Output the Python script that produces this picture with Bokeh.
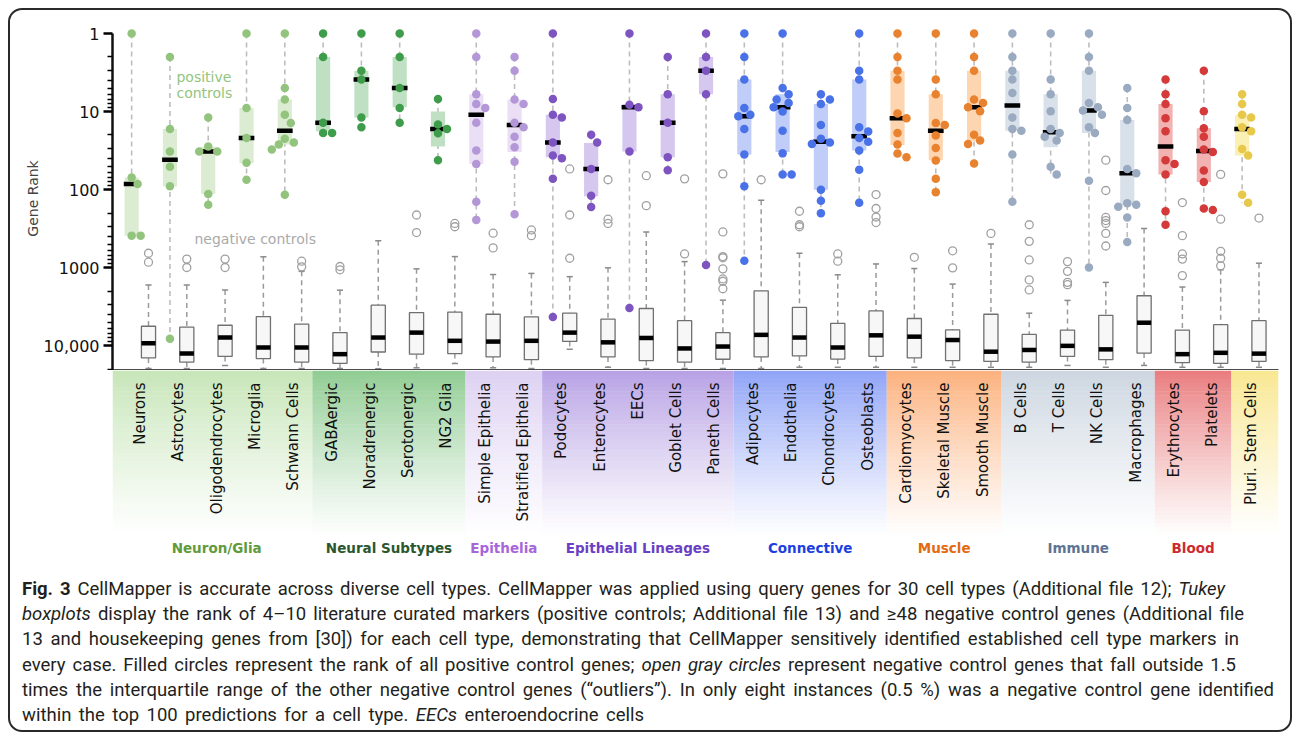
import math
from bokeh.plotting import figure
from bokeh.models import Range1d, FixedTicker, Label, ColumnDataSource, Div, CustomJSTickFormatter
from bokeh.layouts import column
from bokeh.embed import file_html
from bokeh.resources import INLINE
from bokeh.core.properties import value

# ---------------- data ----------------
categories = ["Neurons", "Astrocytes", "Oligodendrocytes", "Microglia", "Schwann Cells",
              "GABAergic", "Noradrenergic", "Serotonergic", "NG2 Glia",
              "Simple Epithelia", "Stratified Epithelia",
              "Podocytes", "Enterocytes", "EECs", "Goblet Cells", "Paneth Cells",
              "Adipocytes", "Endothelia", "Chondrocytes", "Osteoblasts",
              "Cardiomyocytes", "Skeletal Muscle", "Smooth Muscle",
              "B Cells", "T Cells", "NK Cells", "Macrophages",
              "Erythrocytes", "Platelets", "Pluri. Stem Cells"]
group_names = ["Neuron/Glia", "Neural Subtypes", "Epithelia", "Epithelial Lineages",
               "Connective", "Muscle", "Immune", "Blood", ""]
group_sizes = [5, 4, 2, 5, 4, 3, 4, 2, 1]

pos_points = [
    [1, 70, 85, 390, 390],
    [2, 16.7, 32.6, 51, 91, 8200],
    [11.9, 28, 32.6, 32.6, 114, 157],
    [1, 9, 21.8, 45.5, 75],
    [1, 5, 7, 11, 14, 22.4, 25, 26.5, 30.7, 117],
    [1, 2, 13.9, 18.8, 18.8],
    [1, 3, 3.9, 11.9, 15.9],
    [1, 2, 5, 9, 13.9],
    [6.9, 14.7, 16.7, 19, 42],
    [1, 2, 6, 8, 9, 13.9, 31.6, 47, 143, 245],
    [2, 3, 7, 8, 13.9, 15.9, 21, 28.8, 44, 207],
    [1, 6.9, 11, 11.9, 25, 36.7, 39.6, 73, 4300],
    [19.8, 25, 54.5, 120, 167],
    [1, 8.2, 8.8, 32.6, 3300],
    [2, 6, 13.9, 38.6, 56.7],
    [1, 2, 3, 6, 930],
    [1, 2, 3.9, 9, 11, 11.5, 16.7, 35.6, 91, 820],
    [1, 5, 6, 7, 7.8, 8.8, 10, 17.6, 34.4, 64, 64],
    [6, 7, 8, 14.9, 22.4, 25, 26, 101, 139, 202],
    [1, 3, 3.9, 15.9, 18.1, 21.8, 24.4, 31.6, 55.6, 148],
    [1, 2, 3, 3.9, 10.6, 12.2, 18.8, 26.5, 34.6, 38.6],
    [1, 3.9, 6, 14, 14.9, 20.3, 29.3, 42.6, 73, 108],
    [1, 2, 3, 7, 7.8, 8.8, 9.9, 19.8, 23.6, 26, 46.5],
    [1, 2, 3, 3.9, 5.8, 11.9, 16.7, 17.6, 35.6, 143],
    [1, 3.9, 6, 9.9, 16.7, 18.8, 21, 23.6, 51, 64],
    [1, 2, 3, 7.8, 8.8, 9.7, 11, 15.9, 18.8, 77, 1000],
    [5, 9, 12.8, 54.5, 62, 150, 157, 166, 228, 470],
    [3.9, 6, 8, 12.2, 17.9, 42, 47, 64, 190, 283],
    [3, 9.9, 16.4, 21, 30.7, 33, 57, 80, 175, 183],
    [6, 8, 11, 11.9, 15.9, 17.9, 30.2, 36.7, 117, 148],
]
pos_q_top = [70, 16.7, 28.3, 9, 7, 2, 3, 2, 10, 6, 7, 11, 25.3, 8, 6, 2, 3.9, 6, 8, 3.9,
             3, 6, 3, 3, 6, 3, 12.8, 8, 16.4, 11]
pos_median = [85, 41.5, 32.6, 21.8, 17.6, 13.9, 3.9, 5, 16.7, 11, 14.9, 25, 54.5, 8.8, 13.9, 3,
              11.5, 8.8, 24.4, 20.8, 12.2, 17.6, 8.8, 8.4, 18.5, 9.7, 62, 28, 32, 16.7]
pos_q_bot = [390, 91, 114, 46, 26.5, 17.9, 11.9, 8.8, 28, 47, 33, 38.6, 122, 32.6, 38.6, 6,
             35.6, 33, 101, 31.6, 26.8, 42, 24, 17.6, 28.8, 18.8, 160, 64, 80, 36.7]

neg_w_top = [1670, 1670, 1940, 729, 1120, 1950, 454, 1040, 724, 1230, 1190, 1310, 1010, 350, 840,
             2620, 137, 655, 1240, 900, 1030, 1630, 500, 3850, 2640, 1550, 315, 1780, 1070, 880]
neg_q_top = [5660, 5820, 5500, 4260, 5320, 6830, 3040, 3780, 3720, 3970, 4300, 3850, 4600, 3350, 4800,
             6830, 1990, 3250, 5190, 3600, 4500, 6300, 3970, 7200, 6340, 4100, 2300, 6340, 5400, 4800]
neg_median = [9350, 12700, 7900, 10600, 10600, 12900, 7900, 6830, 8700, 8900, 8700, 6830, 9100, 8000, 10900,
              10300, 7300, 7900, 10600, 7400, 7700, 8500, 12000, 11400, 10100, 11200, 5100, 12900, 12400, 12700]
neg_q_bot = [14400, 16300, 13800, 14700, 16300, 16900, 12100, 12900, 12700, 14000, 15200, 8850, 14000, 15600, 16300,
             15000, 14000, 13600, 14900, 13800, 14400, 15600, 16000, 16300, 13800, 15200, 12500, 16600, 16900, 16000]
neg_w_bot = [19700, 19700, 18000, 19700, 19700, 19700, 19800, 19300, 17000, 19300, 19700, 11170, 19000, 19700, 19700,
             19700, 19700, 19000, 19000, 19000, 19000, 19000, 19000, 19000, 18000, 19000, 18000, 19000, 19000, 19000]
neg_outliers = [
    [656, 855], [780, 1000], [780, 1000], [], [830, 980],
    [970, 1070], [], [212, 356], [272, 300],
    [363, 560], [330, 390],
    [54.5, 212, 760], [75, 240, 272], [66.5, 161], [73, 670], [63, 350, 724, 750, 1040, 1400, 1500, 1870],
    [75], [190, 283, 300], [670, 830], [116, 175, 225, 265],
    [740], [610, 1010], [365],
    [283, 462, 800, 1440, 1940], [840, 1120, 1550, 1660], [42, 103, 228, 250, 272, 365, 530], [],
    [147, 390, 670, 780, 1270], [64, 240, 620, 760, 950], [232],
]

caption_lines = [
    "<b>Fig. 3</b> CellMapper is accurate across diverse cell types. CellMapper was applied using query genes for 30 cell types (Additional file 12); <i>Tukey</i>",
    "<i>boxplots</i> display the rank of 4\u201310 literature curated markers (positive controls; Additional file 13) and \u226548 negative control genes (Additional file",
    "13 and housekeeping genes from [30]) for each cell type, demonstrating that CellMapper sensitively identified established cell type markers in",
    "every case. Filled circles represent the rank of all positive control genes; <i>open gray circles</i> represent negative control genes that fall outside 1.5",
    "times the interquartile range of the other negative control genes (\u201coutliers\u201d). In only eight instances (0.5 %) was a negative control gene identified",
    "within the top 100 predictions for a cell type. <i>EECs</i> enteroendocrine cells",
]
caption_line_widths = [1203, 1222, 1217, 1214, 1252, 622]

# ---------------- styles ----------------
dot_colors = ["#93c47d", "#3f9c4b", "#b497d6", "#7e55c0", "#4a72e8", "#e8822e", "#9aaac0", "#d43a3a", "#e8c84a"]
box_colors = ["#dbecd2", "#bfe0c3", "#eadff5", "#d5c7ee", "#bfcdf8", "#fdd5b1", "#d8e0ea", "#f2b2b2", "#fbf0b4"]
band_colors = ["#c6e5b7", "#8ecb90", "#ddd0f2", "#b6a0e4", "#8ea2f7", "#fcb07b", "#ccd5e0", "#e97a7c", "#f9e78f"]
label_colors = ["#5f9b3c", "#2b572f", "#a766d9", "#6b3fc4", "#1d3fe0", "#e36a12", "#5d7394", "#cc2a2f", "#000000"]
FONT = "DejaVu Sans"

grp_idx = []
for g, n in enumerate(group_sizes):
    grp_idx += [g] * n

FRAME_W = 1166
X0, X1 = -0.72, 29.73
PX_PER_UNIT = FRAME_W / (X1 - X0)
Y_BOT, Y_TOP = 20900, 0.813
FRAME_H = 344
PX_PER_DEC = FRAME_H / math.log10(Y_BOT / Y_TOP)
DX = 0.22
BOXW = 0.37
LEFT = 102

x_range = Range1d(X0, X1)

p = figure(frame_width=FRAME_W, frame_height=FRAME_H, x_range=x_range,
           y_range=Range1d(Y_BOT, Y_TOP), y_axis_type="log",
           output_backend="svg", toolbar_location=None,
           min_border_left=LEFT, min_border_right=2, min_border_top=16, min_border_bottom=0)
p.xgrid.visible = False
p.ygrid.visible = False
p.outline_line_color = None
p.background_fill_color = None
p.border_fill_color = None

yax = p.yaxis[0]
yax.ticker = FixedTicker(ticks=[1, 10, 100, 1000, 10000],
                         minor_ticks=[m * 10 ** e for e in range(5) for m in range(2, 10) if m * 10 ** e < Y_BOT])
yax.formatter = CustomJSTickFormatter(code="var t = Math.round(tick); return t >= 10000 ? t.toLocaleString('en-US') : String(t);")
yax.bounds = (1, Y_BOT)
yax.axis_line_width = 2.5
yax.axis_line_color = "#111111"
yax.major_tick_line_width = 2.5
yax.major_tick_out = 9
yax.major_tick_in = 0
yax.minor_tick_line_width = 1.5
yax.minor_tick_out = 5
yax.minor_tick_in = 0
yax.major_label_text_font = FONT
yax.major_label_text_font_size = "16px"
yax.major_label_text_color = "#111111"
yax.major_label_standoff = 4
yax.axis_label = "Gene Rank"
yax.axis_label_text_font = FONT
yax.axis_label_text_font_size = "14px"
yax.axis_label_text_font_style = "normal"
yax.axis_label_standoff = 0

xax = p.xaxis[0]
xax.ticker = FixedTicker(ticks=[])
xax.major_label_text_font_size = "0px"
xax.major_tick_out = 0
xax.minor_tick_out = 0
xax.major_label_standoff = 0
xax.axis_line_width = 2.5
xax.axis_line_color = "#111111"

# positive controls
xs = list(range(len(categories)))
xp = [i - DX for i in xs]
xn = [i + DX for i in xs]

wmin = [min(v) for v in pos_points]
wmax = [max(v) for v in pos_points]
p.segment(x0=xp, y0=wmin, x1=xp, y1=wmax, line_color="#bdbdbd", line_width=1.6, line_dash="5 4")
p.vbar(x=xp, width=BOXW, top=pos_q_top, bottom=pos_q_bot,
       fill_color=[box_colors[g] for g in grp_idx], line_color=None)
p.segment(x0=[x - BOXW / 2 - 0.02 for x in xp], x1=[x + BOXW / 2 + 0.02 for x in xp],
          y0=pos_median, y1=pos_median, line_color="black", line_width=4.5, line_cap="butt")


def swarm(vals, d=8.2):
    placed, offs = [], []
    for v in vals:
        y = math.log10(v) * PX_PER_DEC
        chosen = 0
        for o in [0, 6, -6, 9, -9, 13, -13]:
            if all((o - po) ** 2 + (y - py) ** 2 >= d * d for po, py in placed):
                chosen = o
                break
        placed.append((chosen, y))
        offs.append(chosen)
    return offs


dx_, dy_, dc_ = [], [], []
for i, vals in enumerate(pos_points):
    offs = swarm(vals)
    for v, o in zip(vals, offs):
        dx_.append(xp[i] + o / PX_PER_UNIT)
        dy_.append(v)
        dc_.append(dot_colors[grp_idx[i]])
p.scatter(x=dx_, y=dy_, size=8.5, fill_color=dc_, line_color=None)

# negative controls
p.segment(x0=xn, y0=neg_w_top, x1=xn, y1=neg_q_top, line_color="#9a9a9a", line_width=1.5, line_dash="5 4")
p.segment(x0=xn, y0=neg_q_bot, x1=xn, y1=neg_w_bot, line_color="#9a9a9a", line_width=1.5, line_dash="5 4")
capw = 0.08
p.segment(x0=[x - capw for x in xn], x1=[x + capw for x in xn], y0=neg_w_top, y1=neg_w_top,
          line_color="#8a8a8a", line_width=1.5)
p.segment(x0=[x - capw for x in xn], x1=[x + capw for x in xn], y0=neg_w_bot, y1=neg_w_bot,
          line_color="#8a8a8a", line_width=1.5)
p.vbar(x=xn, width=BOXW, top=neg_q_top, bottom=neg_q_bot, fill_color="#f7f7f7",
       line_color="#707070", line_width=1.3)
p.segment(x0=[x - BOXW / 2 for x in xn], x1=[x + BOXW / 2 for x in xn], y0=neg_median, y1=neg_median,
          line_color="black", line_width=4.5, line_cap="butt")
ox, oy = [], []
for i, vals in enumerate(neg_outliers):
    for v in vals:
        ox.append(xn[i])
        oy.append(v)
p.scatter(x=ox, y=oy, size=8, fill_color=None, line_color="#a0a0a0", line_width=1.3)

p.add_layout(Label(x=0.95, y=3.6, text="positive", text_font=FONT, text_font_size="14px",
                   text_color="#93c47d", text_baseline="middle"))
p.add_layout(Label(x=0.95, y=5.8, text="controls", text_font=FONT, text_font_size="14px",
                   text_color="#93c47d", text_baseline="middle"))
p.add_layout(Label(x=1.42, y=425, text="negative controls", text_font=FONT, text_font_size="14px",
                   text_color="#aaaaaa", text_baseline="middle"))

# ---------------- label panel ----------------
LAB_H = 190
q = figure(frame_width=FRAME_W, frame_height=LAB_H, x_range=x_range, y_range=Range1d(LAB_H, 0),
           output_backend="svg", toolbar_location=None,
           min_border_left=LEFT, min_border_right=2, min_border_top=0, min_border_bottom=0)
q.axis.visible = False
q.xgrid.visible = False
q.ygrid.visible = False
q.outline_line_color = None
q.background_fill_color = None
q.border_fill_color = None


def blend(hexc, t):
    r, g, b = int(hexc[1:3], 16), int(hexc[3:5], 16), int(hexc[5:7], 16)
    r = round(r + (255 - r) * t)
    g = round(g + (255 - g) * t)
    b = round(b + (255 - b) * t)
    return "#%02x%02x%02x" % (r, g, b)


NSL = 40
FADE = 165.0
ql, qr, qt, qb, qc = [], [], [], [], []
start = 0
for g, n in enumerate(group_sizes):
    left = X0 if g == 0 else start - 0.5
    right = X1 if g == len(group_sizes) - 1 else start + n - 0.5
    for k in range(NSL):
        ql.append(left)
        qr.append(right)
        qt.append(k * FADE / NSL)
        qb.append((k + 1) * FADE / NSL + 0.5)
        qc.append(blend(band_colors[g], min(1.0, (k + 0.5) / NSL) ** 0.85))
    start += n
q.quad(left=ql, right=qr, top=qt, bottom=qb, fill_color=qc, line_color=None)

q.text(x=xs, y=[12] * len(xs), text=categories, angle=math.pi / 2, text_align="right",
       text_baseline="middle", text_font=value(FONT), text_font_size="15px", text_color="#111111")

gx, gl, gc = [], [], []
start = 0
for g, n in enumerate(group_sizes):
    if group_names[g]:
        gx.append(start + (n - 1) / 2.0)
        gl.append(group_names[g])
        gc.append(label_colors[g])
    start += n
q.text(x=gx, y=[177] * len(gx), text=gl, text_align="center", text_baseline="middle",
       text_font=value(FONT), text_font_size="13.5px", text_font_style="bold", text_color=gc)

q.add_layout(Label(x=X0 - 0.45, y=1, text="Target Cell Type:", angle=math.pi / 2, text_align="right",
                   text_baseline="middle", text_font=FONT, text_font_size="15px", text_color="#8a8a8a"))

line_divs = "".join(
    "<div style=\"width:%dpx;white-space:nowrap;text-align:justify;text-align-last:justify;\">%s</div>" % (w, t)
    for t, w in zip(caption_lines, caption_line_widths))
cap = Div(text="<div style=\"font-family:'Roboto',sans-serif;"
               "font-size:18.5px;line-height:25.2px;color:#231f20;padding-left:7px;padding-top:12px;\">"
               + line_divs + "</div>",
          width=1270, height=160)

layout = column(p, q, cap, spacing=0,
                styles={"border": "2px solid #2a2a2a", "border-radius": "14px", "background": "white",
                        "margin-left": "8px", "margin-top": "8px"})

open("out.html", "w").write(file_html(layout, INLINE))
